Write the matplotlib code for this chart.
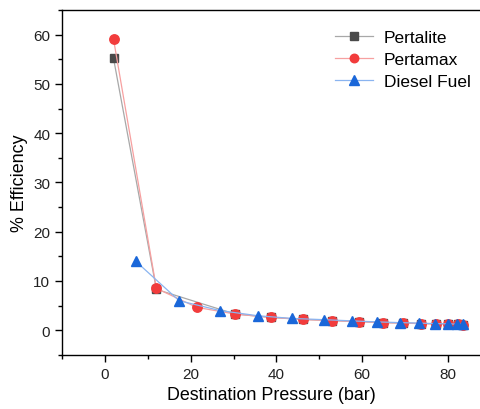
import matplotlib.pyplot as plt
from matplotlib.ticker import MultipleLocator

plt.rcParams['font.family'] = ['Liberation Sans', 'DejaVu Sans']

# Efficiency vs destination pressure for three fuels
pertalite_x = [2.0, 12.0, 30.3, 38.7, 46.1, 53.0, 59.3, 64.8, 69.6, 73.7, 77.2, 80.1, 82.3, 83.6]
pertalite_y = [55.2, 8.3, 3.3, 2.6, 2.2, 1.95, 1.75, 1.55, 1.45, 1.35, 1.3, 1.25, 1.2, 1.15]

pertamax_x = [2.0, 12.0, 21.4, 30.3, 38.7, 46.1, 53.0, 59.3, 64.8, 69.6, 73.7, 77.2, 80.1, 82.3, 83.6]
pertamax_y = [59.1, 8.5, 4.65, 3.3, 2.6, 2.2, 1.95, 1.75, 1.55, 1.45, 1.35, 1.3, 1.25, 1.2, 1.15]

diesel_x = [7.2, 17.3, 26.8, 35.6, 43.6, 51.0, 57.6, 63.4, 68.7, 73.3, 77.0, 80.0, 82.1, 83.5]
diesel_y = [14.0, 6.0, 4.0, 2.95, 2.4, 2.15, 1.9, 1.7, 1.55, 1.45, 1.35, 1.3, 1.25, 1.2]

fig = plt.figure(figsize=(4.81, 4.10), dpi=100)
ax = fig.add_axes([0.129, 0.132, 0.871, 0.841])

ax.plot(pertalite_x, pertalite_y, color='#a8a8a8', lw=0.9, marker='s', ms=5.8,
        mfc='#4a4a4a', mec='#4a4a4a', label='Pertalite')
ax.plot(pertamax_x, pertamax_y, color='#f7a0a0', lw=0.9, marker='o', ms=6.8,
        mfc='#f23c3c', mec='#f23c3c', label='Pertamax')
ax.plot(diesel_x, diesel_y, color='#8ab4f0', lw=0.9, marker='^', ms=7.8,
        mfc='#1a67d9', mec='#1a67d9', label='Diesel Fuel')

ax.set_xlim(-10, 87.7)
ax.set_ylim(-5, 65)
ax.xaxis.set_major_locator(MultipleLocator(20))
ax.xaxis.set_minor_locator(MultipleLocator(10))
ax.yaxis.set_major_locator(MultipleLocator(10))
ax.yaxis.set_minor_locator(MultipleLocator(5))
ax.tick_params(which='major', direction='out', length=5, width=1, labelsize=11,
               labelcolor='#222222')
ax.tick_params(which='minor', direction='out', length=3, width=1)
ax.spines['right'].set_visible(False)
for s in ['left', 'bottom', 'top']:
    ax.spines[s].set_linewidth(1)

ax.set_xlabel('Destination Pressure (bar)', fontsize=12.9)
ax.set_ylabel('% Efficiency', fontsize=12.9)

ax.legend(loc='upper left', bbox_to_anchor=(335 / 481, 1 - 31 / 410),
          bbox_transform=fig.transFigure, frameon=False, fontsize=12.5,
          borderpad=0, borderaxespad=0, handlelength=2.2, handletextpad=0.6,
          labelspacing=0.38, markerscale=0.9)

fig.savefig('out.png', dpi=100)
